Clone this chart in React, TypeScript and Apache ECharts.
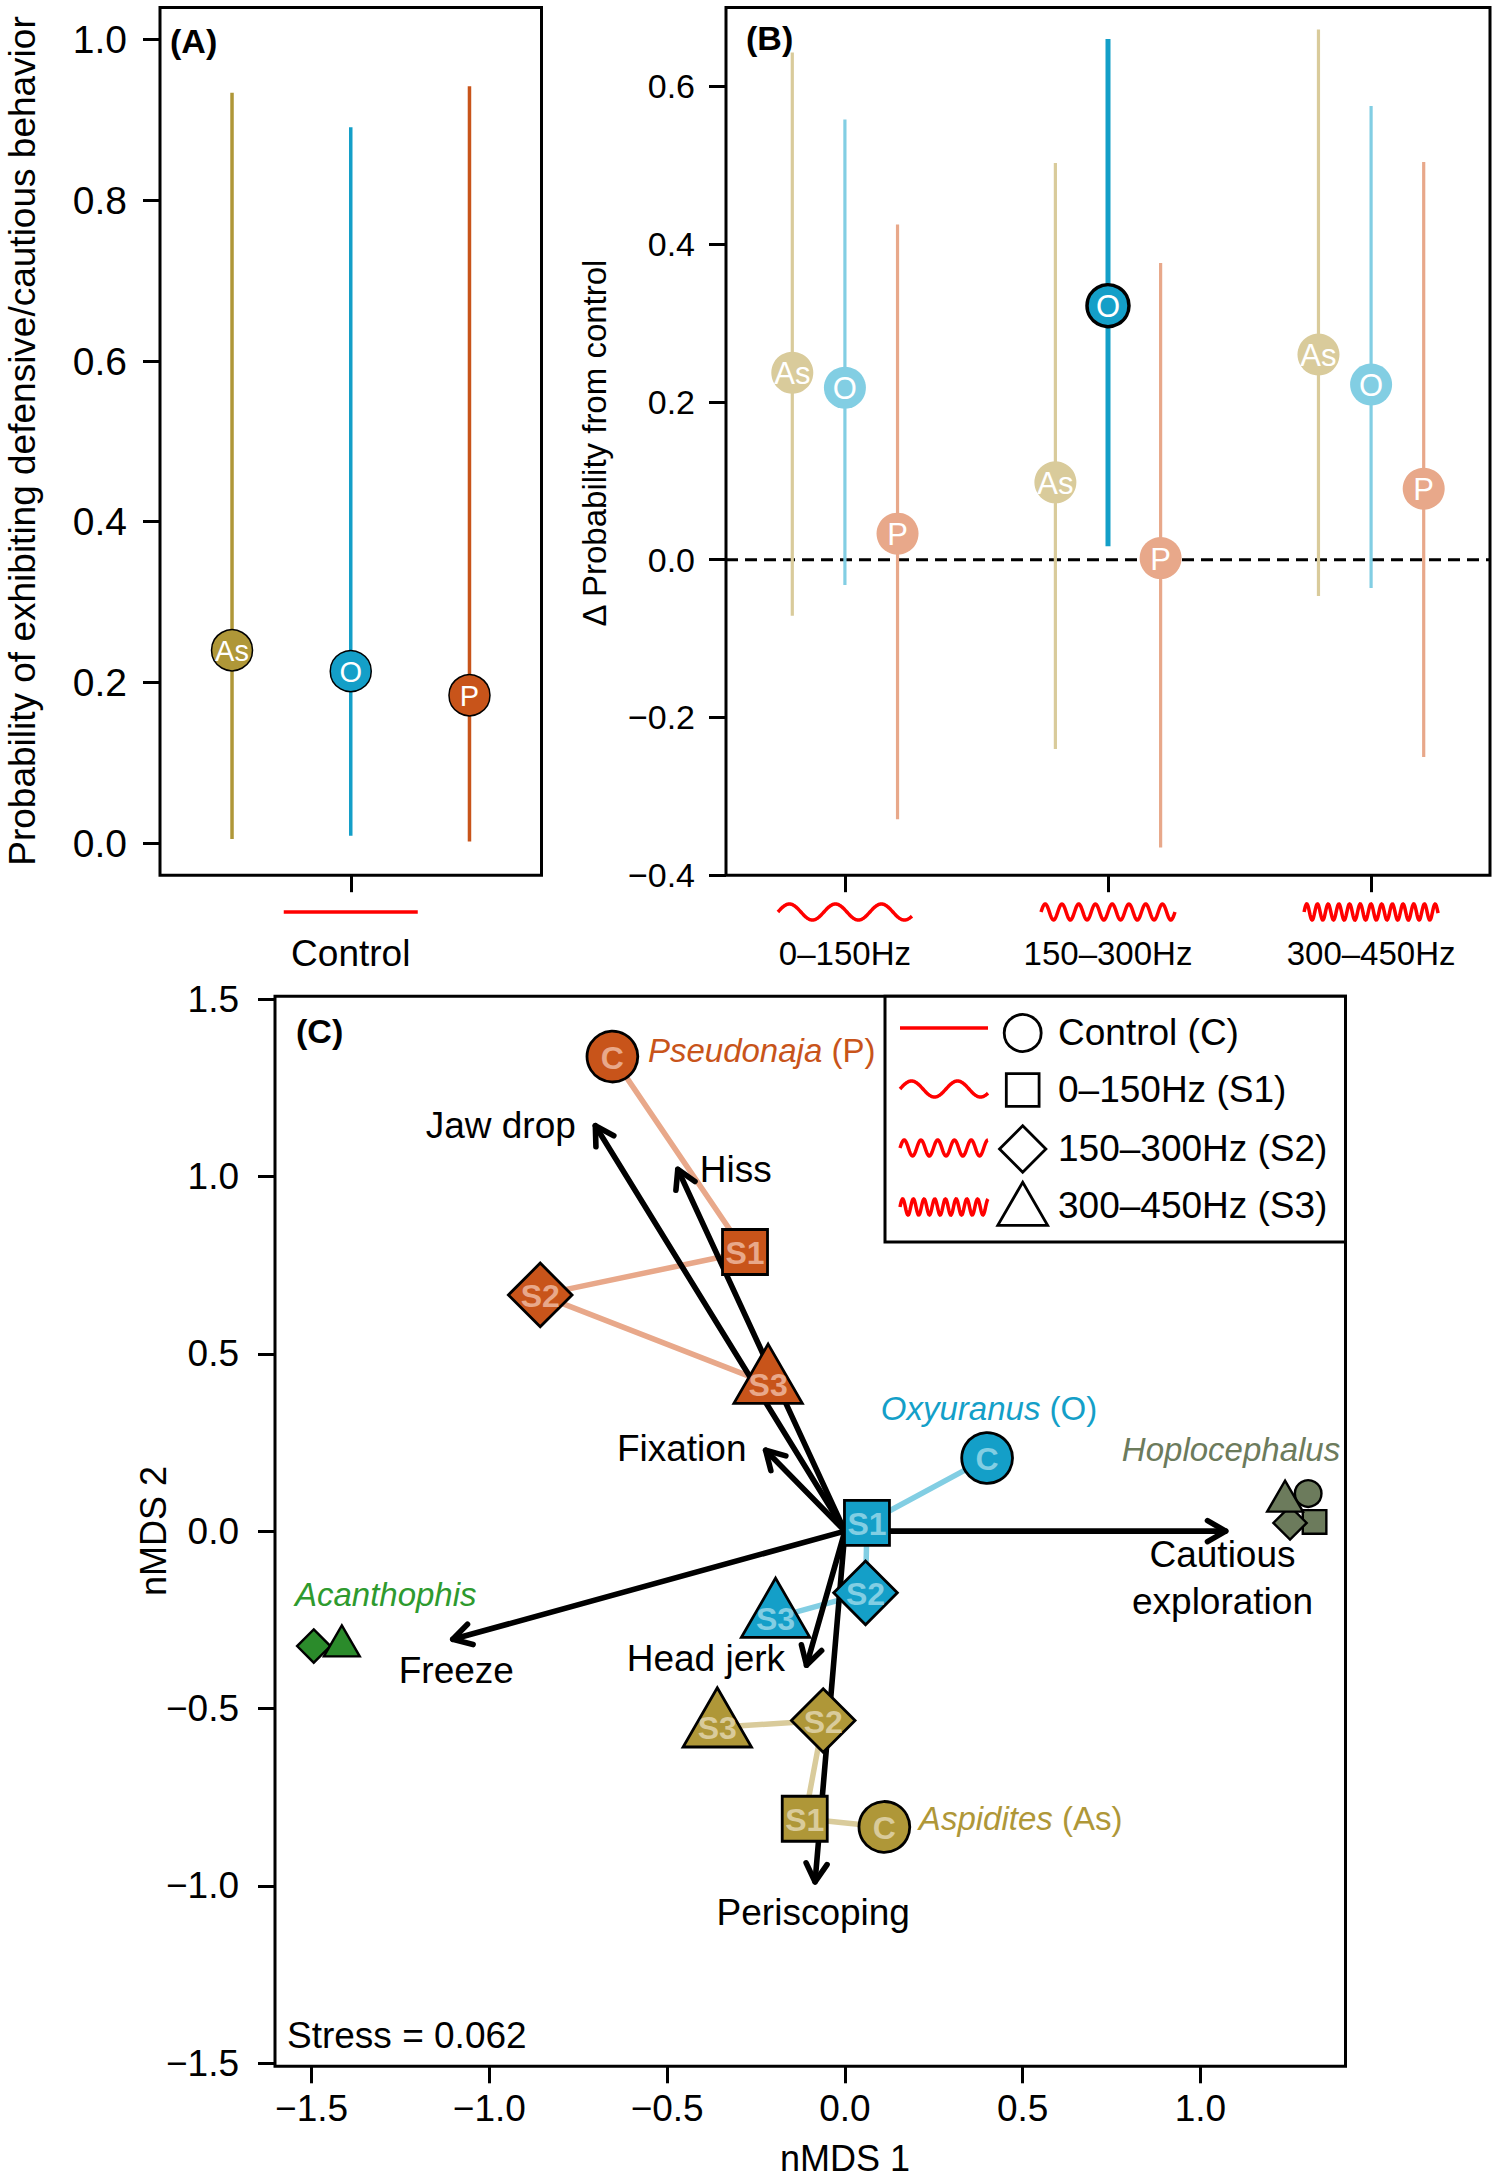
import React, { useEffect, useRef } from 'react';
import * as echarts from 'echarts';

const FONT = '"Liberation Sans", Arial, Helvetica, sans-serif';

// ---------------- Panel A : control probabilities ----------------
const speciesCodes = ['As', 'O', 'P'];
const controlEst = [0.24, 0.214, 0.184];
const controlLo = [0.005, 0.009, 0.002];
const controlHi = [0.934, 0.891, 0.942];
const probTicks = [0, 0.2, 0.4, 0.6, 0.8, 1.0];
const controlLabel = 'Control';

// ---------------- Panel B : change from control ----------------
const freqLabels = ['0–150Hz', '150–300Hz', '300–450Hz'];
const deltaAsEst = [0.237, 0.098, 0.26];
const deltaAsLo = [-0.071, -0.24, -0.046];
const deltaAsHi = [0.643, 0.503, 0.672];
const deltaOEst = [0.218, 0.322, 0.222];
const deltaOLo = [-0.032, 0.017, -0.036];
const deltaOHi = [0.558, 0.66, 0.575];
const deltaPEst = [0.033, 0.002, 0.09];
const deltaPLo = [-0.329, -0.365, -0.25];
const deltaPHi = [0.425, 0.376, 0.504];
const deltaOSignificant = [false, true, false];
const deltaTicks = [-0.4, -0.2, 0, 0.2, 0.4, 0.6];

// ---------------- Panel C : nMDS ----------------
const treatmentCodes = ['C', 'S1', 'S2', 'S3'];
const pseudonajaX = [-0.654, -0.281, -0.857, -0.216];
const pseudonajaY = [1.338, 0.787, 0.666, 0.416];
const oxyuranusX = [0.4, 0.062, 0.058, -0.195];
const oxyuranusY = [0.206, 0.023, -0.174, -0.244];
const aspiditesX = [0.111, -0.113, -0.061, -0.359];
const aspiditesY = [-0.834, -0.811, -0.534, -0.553];
const hoplocephalusX = [1.303, 1.321, 1.252, 1.238];
const hoplocephalusY = [0.106, 0.026, 0.023, 0.084];
const acanthophisX = [-1.494, -1.415];
const acanthophisY = [-0.324, -0.324];
const acanthophisTreatments = [2, 3];

const vectorNames = ['Jaw drop', 'Hiss', 'Fixation', 'Freeze', 'Head jerk', 'Periscoping', 'Cautious\nexploration'];
const vectorX = [-0.702, -0.47, -0.223, -1.103, -0.108, -0.084, 1.071];
const vectorY = [1.143, 1.02, 0.228, -0.305, -0.378, -0.989, 0.0];
const vectorLabelX = [-0.968, -0.307, -0.459, -1.093, -0.391, -0.089, 1.062];
const vectorLabelY = [1.143, 1.021, 0.233, -0.393, -0.359, -1.074, -0.131];

const nmds1Ticks = [-1.5, -1.0, -0.5, 0, 0.5, 1.0];
const nmds2Ticks = [-1.5, -1.0, -0.5, 0, 0.5, 1.0, 1.5];
const legendLabels = ['Control (C)', '0–150Hz (S1)', '150–300Hz (S2)', '300–450Hz (S3)'];
const stressText = 'Stress = 0.062';

// ---------------- styles ----------------
const DARK: any = { As: '#AF9738', O: '#149FC8', P: '#C8541A' };
const LIGHT: any = { As: '#D9CB9B', O: '#82CEE3', P: '#E8A88A' };
const HOPLO = '#6C7B5C';
const ACAN = '#2B8B2B';
const ACAN_TEXT = '#2E9A2E';
const WAVE_RED = '#FF0000';
const WAVE_PERIODS = [46, 16.75, 10.7];

const GRID_A = { left: 160, top: 7.5, width: 381.5, height: 867.7 };
const GRID_B = { left: 726, top: 7.5, width: 764, height: 867.7 };
const GRID_C = { left: 275, top: 996.3, width: 1070.5, height: 1070 };

const A_SPREAD = 0.3;
const B_SPREAD = 0.2;

function fmt(v: number) {
  const s = Math.abs(v) < 1e-9 ? '0.0' : v.toFixed(1);
  return s.replace('-', '\u2212');
}

function valueAxis(gridIndex: number, min: number, max: number, ticks: number[], fontSize: number, margin: number, formatter: any) {
  return {
    type: 'value',
    gridIndex,
    min,
    max,
    axisLine: { show: false, onZero: false },
    splitLine: { show: false },
    axisTick: { show: true, inside: false, customValues: ticks, length: 17, lineStyle: { color: '#000', width: 3 } },
    axisLabel: {
      show: true,
      customValues: ticks,
      formatter,
      margin,
      fontSize,
      fontFamily: FONT,
      color: '#000',
      lineHeight: fontSize + 3,
    },
  };
}

function shapeEl(kind: number, cx: number, cy: number, r: number, fill: string, stroke: string, lw: number, z2 = 0): any {
  const style = { fill, stroke, lineWidth: lw };
  if (kind === 0) return { type: 'circle', z2, shape: { cx, cy, r }, style };
  if (kind === 1) {
    const h = r * 0.886;
    return { type: 'rect', z2, shape: { x: cx - h, y: cy - h, width: 2 * h, height: 2 * h }, style };
  }
  if (kind === 2) {
    const d = r * 1.253;
    return { type: 'polygon', z2, shape: { points: [[cx, cy - d], [cx + d, cy], [cx, cy + d], [cx - d, cy]] }, style };
  }
  const t = r * 1.555;
  return {
    type: 'polygon',
    z2,
    shape: { points: [[cx, cy - t], [cx + t * 0.866, cy + t * 0.5], [cx - t * 0.866, cy + t * 0.5]] },
    style,
  };
}

function textStyle(text: string, fontSize: number, fill: string, align = 'center', extra: any = {}) {
  return {
    text,
    fill,
    fontSize,
    fontFamily: FONT,
    align,
    textAlign: align,
    verticalAlign: 'middle',
    textVerticalAlign: 'middle',
    ...extra,
  };
}

function wavePoints(x0: number, y0: number, w: number, period: number, amp: number) {
  const pts: number[][] = [];
  for (let u = 0; u <= w; u += 0.5) pts.push([x0 + u, y0 - amp * Math.sin((2 * Math.PI * u) / period)]);
  return pts;
}

export default function App() {
  const ref = useRef<HTMLDivElement>(null);

  useEffect(() => {
    if (!ref.current) return;
    const chart = echarts.init(ref.current, null, { renderer: 'svg', width: 1500, height: 2180 });

    // Panel A data
    const aData = speciesCodes.map((s, i) => [1 + (i - 1) * A_SPREAD, controlEst[i], controlLo[i], controlHi[i], i]);

    // Panel B data
    const bEst = [deltaAsEst, deltaOEst, deltaPEst];
    const bLo = [deltaAsLo, deltaOLo, deltaPLo];
    const bHi = [deltaAsHi, deltaOHi, deltaPHi];
    const bData: any[] = [];
    freqLabels.forEach((_, g) => {
      speciesCodes.forEach((_s, s) => {
        bData.push([g + 1 + (s - 1) * B_SPREAD, bEst[s][g], bLo[s][g], bHi[s][g], s, g]);
      });
    });

    // Panel C species
    const nmdsSpecies = [
      { xs: pseudonajaX, ys: pseudonajaY, treat: [0, 1, 2, 3], fill: DARK.P, light: LIGHT.P, big: true, line: true },
      { xs: oxyuranusX, ys: oxyuranusY, treat: [0, 1, 2, 3], fill: DARK.O, light: LIGHT.O, big: true, line: true },
      { xs: aspiditesX, ys: aspiditesY, treat: [0, 1, 2, 3], fill: DARK.As, light: LIGHT.As, big: true, line: true },
      { xs: hoplocephalusX, ys: hoplocephalusY, treat: [0, 1, 2, 3], fill: HOPLO, light: HOPLO, big: false, line: false },
      { xs: acanthophisX, ys: acanthophisY, treat: acanthophisTreatments, fill: ACAN, light: ACAN, big: false, line: false },
    ];

    const speciesNameLabels = [
      { x: -0.554, y: 1.354, name: 'Pseudonaja', suffix: ' (P)', color: DARK.P },
      { x: 0.101, y: 0.347, name: 'Oxyuranus', suffix: ' (O)', color: DARK.O },
      { x: 0.779, y: 0.231, name: 'Hoplocephalus', suffix: '', color: HOPLO },
      { x: -1.547, y: -0.178, name: 'Acanthophis', suffix: '', color: ACAN_TEXT },
      { x: 0.208, y: -0.809, name: 'Aspidites', suffix: ' (As)', color: DARK.As },
    ];

    const series: any[] = [];

    // ---- Panel A ----
    series.push({
      type: 'custom',
      xAxisIndex: 0,
      yAxisIndex: 0,
      z: 3,
      data: aData,
      encode: { x: 0, y: [1, 2, 3] },
      renderItem: (params: any, api: any) => {
        const i = api.value(4);
        const x = api.value(0);
        const lo = api.coord([x, api.value(2)]);
        const hi = api.coord([x, api.value(3)]);
        const e = api.coord([x, api.value(1)]);
        const col = DARK[speciesCodes[i]];
        return {
          type: 'group',
          children: [
            { type: 'line', shape: { x1: lo[0], y1: lo[1], x2: hi[0], y2: hi[1] }, style: { stroke: col, lineWidth: 3.5 } },
            { type: 'circle', shape: { cx: e[0], cy: e[1], r: 20.5 }, style: { fill: col, stroke: '#000', lineWidth: 1.5 } },
            { type: 'text', x: e[0], y: e[1] + 1, style: textStyle(speciesCodes[i], 29, '#fff') },
          ],
        };
      },
    });

    // ---- Panel B ----
    series.push({
      type: 'line',
      xAxisIndex: 1,
      yAxisIndex: 1,
      z: 1,
      symbol: 'none',
      silent: true,
      data: [[0.548, 0], [3.452, 0]],
      lineStyle: { color: '#000', width: 3, type: [12, 7] },
    });
    series.push({
      type: 'custom',
      xAxisIndex: 1,
      yAxisIndex: 1,
      z: 3,
      data: bData,
      encode: { x: 0, y: [1, 2, 3] },
      renderItem: (params: any, api: any) => {
        const s = api.value(4);
        const g = api.value(5);
        const x = api.value(0);
        const sig = s === 1 && deltaOSignificant[g];
        const code = speciesCodes[s];
        const lo = api.coord([x, api.value(2)]);
        const hi = api.coord([x, api.value(3)]);
        const e = api.coord([x, api.value(1)]);
        const col = sig ? DARK[code] : LIGHT[code];
        return {
          type: 'group',
          children: [
            { type: 'line', shape: { x1: lo[0], y1: lo[1], x2: hi[0], y2: hi[1] }, style: { stroke: col, lineWidth: sig ? 5 : 3.2 } },
            {
              type: 'circle',
              shape: { cx: e[0], cy: e[1], r: 21 },
              style: { fill: col, stroke: sig ? '#000' : null, lineWidth: sig ? 3.5 : 0 },
            },
            { type: 'text', x: e[0], y: e[1] + 1, style: textStyle(code, 31, '#fff') },
          ],
        };
      },
    });

    // ---- Panel C : species connecting lines ----
    nmdsSpecies.forEach((sp) => {
      if (!sp.line) return;
      series.push({
        type: 'line',
        xAxisIndex: 2,
        yAxisIndex: 2,
        z: 1,
        symbol: 'none',
        silent: true,
        data: sp.xs.map((x, i) => [x, sp.ys[i]]),
        lineStyle: { color: sp.light, width: 5.5 },
      });
    });

    // ---- Panel C : vectors ----
    series.push({
      type: 'custom',
      xAxisIndex: 2,
      yAxisIndex: 2,
      z: 2,
      data: vectorX.map((x, i) => [x, vectorY[i]]),
      renderItem: (params: any, api: any) => {
        const o = api.coord([0, 0]);
        const t = api.coord([api.value(0), api.value(1)]);
        const ang = Math.atan2(t[1] - o[1], t[0] - o[0]);
        const L = 21;
        const a = Math.PI / 6;
        const b1 = [t[0] - L * Math.cos(ang - a), t[1] - L * Math.sin(ang - a)];
        const b2 = [t[0] - L * Math.cos(ang + a), t[1] - L * Math.sin(ang + a)];
        return {
          type: 'group',
          children: [
            { type: 'line', shape: { x1: o[0], y1: o[1], x2: t[0], y2: t[1] }, style: { stroke: '#000', lineWidth: 5.6, lineCap: 'round' } },
            {
              type: 'polyline',
              shape: { points: [b1, t, b2] },
              style: { stroke: '#000', lineWidth: 5.6, fill: 'none', lineCap: 'round', lineJoin: 'round' },
            },
          ],
        };
      },
    });

    // ---- Panel C : vector labels ----
    series.push({
      type: 'custom',
      xAxisIndex: 2,
      yAxisIndex: 2,
      z: 4,
      data: vectorLabelX.map((x, i) => [x, vectorLabelY[i], i]),
      renderItem: (params: any, api: any) => {
        const p = api.coord([api.value(0), api.value(1)]);
        const i = api.value(2);
        return {
          type: 'text',
          x: p[0],
          y: p[1],
          style: textStyle(vectorNames[i], 37, '#000', 'center', { lineHeight: 47 }),
        };
      },
    });

    // ---- Panel C : markers ----
    nmdsSpecies.forEach((sp) => {
      series.push({
        type: 'custom',
        xAxisIndex: 2,
        yAxisIndex: 2,
        z: 3,
        data: sp.xs.map((x, i) => [x, sp.ys[i], sp.treat[i]]),
        renderItem: (params: any, api: any) => {
          const p = api.coord([api.value(0), api.value(1)]);
          const t = api.value(2);
          const r = sp.big ? 25.4 : 13.3;
          const children: any[] = [shapeEl(t, p[0], p[1], r, sp.fill, '#000', sp.big ? 2.8 : 2.4)];
          if (sp.big) {
            children.push({
              type: 'text',
              x: p[0],
              y: p[1] + 1,
              style: textStyle(treatmentCodes[t], 32, sp.light, 'center', { fontWeight: 'bold' }),
            });
          }
          return { type: 'group', children };
        },
      });
    });

    // ---- Panel C : species names ----
    series.push({
      type: 'custom',
      xAxisIndex: 2,
      yAxisIndex: 2,
      z: 4,
      data: speciesNameLabels.map((l, i) => [l.x, l.y, i]),
      renderItem: (params: any, api: any) => {
        const p = api.coord([api.value(0), api.value(1)]);
        const l = speciesNameLabels[api.value(2)];
        return {
          type: 'text',
          x: p[0],
          y: p[1],
          style: textStyle('{i|' + l.name + '}' + l.suffix, 33, l.color, 'left', {
            rich: { i: { fontStyle: 'italic', fontSize: 33, fontFamily: FONT, fill: l.color } },
          }),
        };
      },
    });

    const option: any = {
      animation: false,
      backgroundColor: '#fff',
      grid: [GRID_A, GRID_B, GRID_C].map((g) => ({
        ...g,
        show: true,
        borderColor: '#000',
        borderWidth: 3,
        backgroundColor: 'transparent',
        containLabel: false,
        outerBoundsMode: 'none',
      })),
      xAxis: [
        valueAxis(0, 0.518, 1.482, [1], 37, 58, () => controlLabel),
        valueAxis(1, 0.548, 3.452, [1, 2, 3], 33, 60, (v: number) => freqLabels[Math.round(v) - 1]),
        valueAxis(2, -1.603, 1.408, nmds1Ticks, 37, 22, fmt),
      ],
      yAxis: [
        valueAxis(0, -0.04, 1.04, probTicks, 39, 33, fmt),
        valueAxis(1, -0.4, 0.7, deltaTicks, 34, 31, fmt),
        valueAxis(2, -1.509, 1.508, nmds2Ticks, 37, 36, fmt),
      ],
      series,
    };

    chart.setOption(option);

    // ---- decorations (positioned with the library's own scales) ----
    const graphic: any[] = [];
    const waveY = 912;
    const waveW = 134;
    const ctrlX = chart.convertToPixel({ xAxisIndex: 0 } as any, 1) as any;
    graphic.push({
      type: 'line',
      shape: { x1: ctrlX - waveW / 2, y1: waveY, x2: ctrlX + waveW / 2, y2: waveY },
      style: { stroke: WAVE_RED, lineWidth: 3.5 },
    });
    freqLabels.forEach((_, g) => {
      const cx = chart.convertToPixel({ xAxisIndex: 1 } as any, g + 1) as any;
      graphic.push({
        type: 'polyline',
        shape: { points: wavePoints(cx - waveW / 2, waveY, waveW, WAVE_PERIODS[g], 8) },
        style: { stroke: WAVE_RED, lineWidth: 3.5, fill: 'none' },
      });
    });

    // axis titles
    graphic.push({
      type: 'text',
      x: 22,
      y: 441,
      rotation: Math.PI / 2,
      style: textStyle('Probability of exhibiting defensive/cautious behavior', 37, '#000'),
    });
    graphic.push({
      type: 'text',
      x: 594,
      y: 443,
      rotation: Math.PI / 2,
      style: textStyle('\u0394 Probability from control', 33, '#000'),
    });
    graphic.push({ type: 'text', x: 153, y: 1531, rotation: Math.PI / 2, style: textStyle('nMDS 2', 36, '#000') });
    graphic.push({ type: 'text', x: 845, y: 2158, style: textStyle('nMDS 1', 36, '#000') });

    // panel letters
    graphic.push({ type: 'text', x: 170, y: 41, style: textStyle('(A)', 34, '#000', 'left', { fontWeight: 'bold' }) });
    graphic.push({ type: 'text', x: 746, y: 38, style: textStyle('(B)', 34, '#000', 'left', { fontWeight: 'bold' }) });
    graphic.push({ type: 'text', x: 296, y: 1031, style: textStyle('(C)', 34, '#000', 'left', { fontWeight: 'bold' }) });
    graphic.push({ type: 'text', x: 287, y: 2035, style: textStyle(stressText, 37, '#000', 'left') });

    // legend
    const lgX = 885;
    const lgY = GRID_C.top;
    const lgW = GRID_C.left + GRID_C.width - lgX;
    const lgH = 245.7;
    graphic.push({
      type: 'rect',
      shape: { x: lgX, y: lgY, width: lgW, height: lgH },
      style: { fill: '#fff', stroke: '#000', lineWidth: 3 },
      z: 10,
    });
    const rowLineY = [1028, 1089, 1148, 1207];
    const rowSymY = [1033, 1090, 1149, 1211];
    const rowTextY = [1032, 1089, 1148, 1205];
    const lineX0 = 900;
    const lineW = 88;
    legendLabels.forEach((lab, k) => {
      if (k === 0) {
        graphic.push({
          type: 'line',
          z: 11,
          shape: { x1: lineX0, y1: rowLineY[k], x2: lineX0 + lineW, y2: rowLineY[k] },
          style: { stroke: WAVE_RED, lineWidth: 3.5 },
        });
      } else {
        graphic.push({
          type: 'polyline',
          z: 11,
          shape: { points: wavePoints(lineX0, rowLineY[k], lineW, WAVE_PERIODS[k - 1], 8) },
          style: { stroke: WAVE_RED, lineWidth: 3.5, fill: 'none' },
        });
      }
      const sym = shapeEl(k, 1022.7, rowSymY[k], 18.5, 'none', '#000', 2.8);
      sym.z = 11;
      graphic.push(sym);
      graphic.push({ type: 'text', z: 11, x: 1058, y: rowTextY[k], style: textStyle(lab, 37, '#000', 'left') });
    });

    chart.setOption({ graphic });

    return () => {
      chart.dispose();
    };
  }, []);

  return <div ref={ref} style={{ position: 'absolute', left: 0, top: 0, width: 1500, height: 2180 }} />;
}
